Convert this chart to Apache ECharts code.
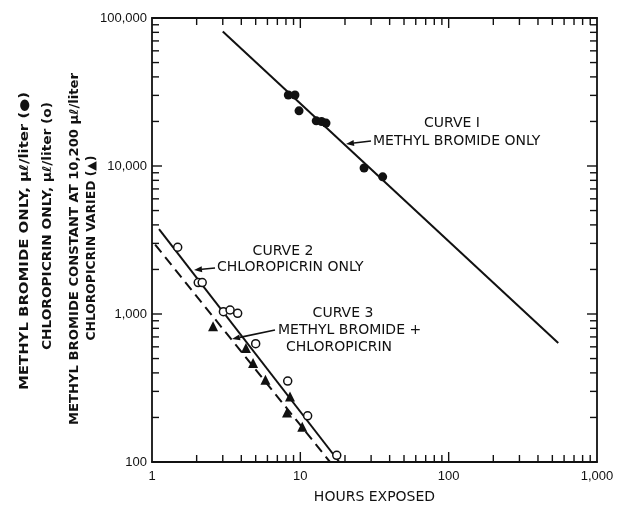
<!DOCTYPE html>
<html><head><meta charset="utf-8">
<script src="https://cdn.jsdelivr.net/npm/echarts@6/dist/echarts.min.js"></script>
<style>html,body{margin:0;padding:0;background:#fff}#c{width:619px;height:509px}</style>
</head><body><div id="c"></div>
<script>
// ---- data ----
const xTickLabels = [1, 10, 100, 1000];
const yTickLabels = [100, 1000, 10000, 100000];
const minorSteps = [2, 3, 4, 5, 6, 7, 8, 9];

const curve1Points = [[8.3,30200],[9.2,30200],[9.8,23600],[12.8,20200],[13.9,20000],[14.9,19500],[26.9,9700],[35.9,8450]];
const curve1Line = [[3.0,81000],[548,636]];
const curve2Points = [[1.49,2825],[2.05,1630],[2.18,1630],[3.03,1037],[3.36,1064],[3.78,1010],[5.0,630],[8.22,352],[11.2,205],[17.6,111]];
const curve2Line = [[1.115,3750],[18.3,100]];
const curve3Points = [[2.58,827],[4.3,589],[4.8,467],[5.82,360],[8.52,277],[8.13,216],[10.3,173]];
const curve3Line = [[1.05,2940],[15.85,100]];

const xName = 'HOURS EXPOSED';
const yNameLines = [
  'METHYL BROMIDE ONLY, \u03bc\u2113/liter (\u25cf)',
  'CHLOROPICRIN ONLY, \u03bc\u2113/liter (o)',
  'METHYL BROMIDE CONSTANT AT 10,200 \u03bc\u2113/liter',
  'CHLOROPICRIN VARIED (\u25b2)'
];

// ---- chart ----
const X_MIN = xTickLabels[0], X_MAX = xTickLabels[xTickLabels.length-1];
const Y_MIN = yTickLabels[0], Y_MAX = yTickLabels[yTickLabels.length-1];
const INK = '#111';

function fmt(v){ return String(Math.round(v)).replace(/\B(?=(\d{3})+(?!\d))/g, ','); }

// tick items: [x, y, kind(0=x,1=y), major]
const tickData = [];
xTickLabels.forEach((d, i) => {
  if (i > 0 && i < xTickLabels.length-1) tickData.push([d, Y_MIN, 0, 1]);
  if (i < xTickLabels.length-1) minorSteps.forEach(m => tickData.push([d*m, Y_MIN, 0, 0]));
});
yTickLabels.forEach((d, i) => {
  if (i > 0 && i < yTickLabels.length-1) tickData.push([X_MIN, d, 1, 1]);
  if (i < yTickLabels.length-1) minorSteps.forEach(m => tickData.push([X_MIN, d*m, 1, 0]));
});

function renderTicks(params, api){
  const v0 = api.value(0), v1 = api.value(1), kind = api.value(2), major = api.value(3);
  const len = major ? 10 : 7;
  const style = {stroke: INK, lineWidth: 1.4};
  if (kind === 0){
    const pb = api.coord([v0, Y_MIN]), pt = api.coord([v0, Y_MAX]);
    return {type:'group', children:[
      {type:'line', shape:{x1:pb[0],y1:pb[1],x2:pb[0],y2:pb[1]-len}, style},
      {type:'line', shape:{x1:pt[0],y1:pt[1],x2:pt[0],y2:pt[1]+len}, style}
    ]};
  }
  const pl = api.coord([X_MIN, v1]), pr = api.coord([X_MAX, v1]);
  return {type:'group', children:[
    {type:'line', shape:{x1:pl[0],y1:pl[1],x2:pl[0]+len,y2:pl[1]}, style},
    {type:'line', shape:{x1:pr[0],y1:pr[1],x2:pr[0]-len,y2:pr[1]}, style}
  ]};
}

const chart = echarts.init(document.getElementById('c'), null, {renderer:'canvas'});

const axisLineStyle = {show:true, lineStyle:{color:INK, width:1.8}};
const labelFont = {color:INK, fontFamily:'Liberation Sans', fontSize:13};

// text helpers (annotation layout in pixels)
const TXT = {fontFamily:'DejaVu Sans', fontSize:14, fill:INK};
function label(text, x, y, align){
  return {type:'text', x, y, style:Object.assign({text, textAlign:align||'left', textVerticalAlign:'middle'}, TXT), z:10};
}
function arrow(x1, y1, x2, y2){
  const a = Math.atan2(y2-y1, x2-x1), L = 8, W = 3;
  const bx = x2 - L*Math.cos(a), by = y2 - L*Math.sin(a);
  const nx = -Math.sin(a)*W, ny = Math.cos(a)*W;
  return [
    {type:'line', shape:{x1, y1, x2:bx, y2:by}, style:{stroke:INK, lineWidth:1.6}, z:10},
    {type:'polygon', shape:{points:[[x2,y2],[bx+nx,by+ny],[bx-nx,by-ny]]}, style:{fill:INK}, z:10}
  ];
}

// rotated y-name lines, fitted to measured lengths
const ctx = document.createElement('canvas').getContext('2d');
const yNameFont = 'bold 12px "DejaVu Sans"';
ctx.font = yNameFont;
const yNameLayout = [[25,241,298],[48,226,248],[75,249,352],[92,248,185]];
const yNameGraphics = yNameLines.map((t, i) => {
  const [cx, cy, len] = yNameLayout[i];
  const w = ctx.measureText(t).width;
  return {type:'text', x:cx, y:cy, rotation:Math.PI/2, scaleX:len/w, scaleY:1,
    style:{text:t, font:yNameFont, fill:INK, textAlign:'center', textVerticalAlign:'middle'}, z:10};
});

const graphics = [].concat(
  [label('CURVE I', 452, 123, 'center'), label('METHYL BROMIDE ONLY', 373, 141)],
  arrow(371, 141, 346, 144),
  [label('CURVE 2', 283, 251, 'center'), label('CHLOROPICRIN ONLY', 217, 267)],
  arrow(215, 268, 194, 270),
  [label('CURVE 3', 343, 313, 'center'), label('METHYL BROMIDE +', 278, 330), label('CHLOROPICRIN', 286, 347)],
  arrow(275, 330, 232, 339),
  yNameGraphics
);

chart.setOption({
  animation:false,
  backgroundColor:'#fff',
  grid:{left:152, right:22, top:18, bottom:43, containLabel:false},
  xAxis:[
    {type:'log', logBase:10, min:X_MIN, max:X_MAX, position:'bottom',
     axisLine:axisLineStyle, axisTick:{show:false}, splitLine:{show:false},
     axisLabel:Object.assign({margin:8, formatter:fmt}, labelFont),
     name:xName, nameLocation:'middle', nameGap:28,
     nameTextStyle:{color:INK, fontFamily:'DejaVu Sans', fontSize:14}},
    {type:'log', logBase:10, min:X_MIN, max:X_MAX, position:'top',
     axisLine:axisLineStyle, axisTick:{show:false}, splitLine:{show:false}, axisLabel:{show:false}}
  ],
  yAxis:[
    {type:'log', logBase:10, min:Y_MIN, max:Y_MAX, position:'left',
     axisLine:axisLineStyle, axisTick:{show:false}, splitLine:{show:false},
     axisLabel:Object.assign({margin:5, formatter:fmt}, labelFont)},
    {type:'log', logBase:10, min:Y_MIN, max:Y_MAX, position:'right',
     axisLine:axisLineStyle, axisTick:{show:false}, splitLine:{show:false}, axisLabel:{show:false}}
  ],
  series:[
    {type:'custom', name:'ticks', renderItem:renderTicks, data:tickData,
     encode:{x:0, y:1}, dimensions:['x','y','kind','major'], clip:false, silent:true, z:1},
    {type:'line', name:'Curve 1', data:curve1Line, showSymbol:false, symbol:'none',
     lineStyle:{color:INK, width:2}, z:2},
    {type:'line', name:'Curve 2', data:curve2Line, showSymbol:false, symbol:'none',
     lineStyle:{color:INK, width:2}, z:2},
    {type:'line', name:'Curve 3', data:curve3Line, showSymbol:false, symbol:'none',
     lineStyle:{color:INK, width:2, type:[10,6]}, z:2},
    {type:'scatter', name:'Methyl bromide only', data:curve1Points, symbol:'circle', symbolSize:9,
     itemStyle:{color:INK, opacity:1}, z:3},
    {type:'scatter', name:'Chloropicrin only', data:curve2Points, symbol:'circle', symbolSize:8,
     itemStyle:{color:'#fff', borderColor:INK, borderWidth:1.5, opacity:1}, z:3},
    {type:'scatter', name:'Methyl bromide + chloropicrin', data:curve3Points, symbol:'triangle', symbolSize:10,
     itemStyle:{color:INK, opacity:1}, z:3}
  ],
  graphic:graphics
});
</script>
</body></html>
